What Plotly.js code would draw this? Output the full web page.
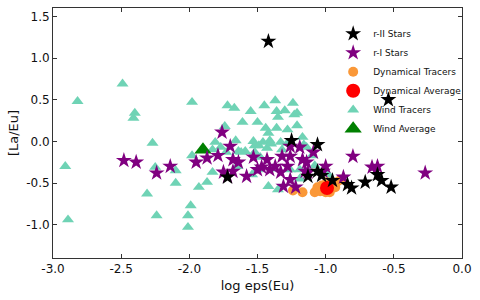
<!DOCTYPE html>
<html>
<head>
<meta charset="utf-8">
<script src="https://cdn.plot.ly/plotly-3.0.1.min.js"></script>
<style>html,body{margin:0;padding:0;background:#fff;}#chart{width:480px;height:300px;}</style>
</head>
<body>
<div id="chart"></div>
<script>
// r-II stars
const r2X = [-1.42, -0.54, -1.25, -1.06, -1.13, -1.06, -1.03, -0.95, -0.84, -0.81, -0.71, -0.62, -0.59, -0.52, -1.72];
const r2Y = [1.20, 0.50, 0.01, -0.04, -0.42, -0.36, -0.41, -0.47, -0.52, -0.56, -0.49, -0.40, -0.47, -0.55, -0.43];
// r-I stars
const r1X = [-2.48, -2.39, -2.24, -2.14, -1.95, -1.87, -1.79, -1.76, -1.70, -1.68, -1.64, -1.75, -1.72, -1.68, -1.58,
  -1.53, -1.50, -1.47, -1.43, -1.41, -1.37, -1.33, -1.32, -1.28, -1.26, -1.26, -1.19, -1.17, -1.14, -1.09,
  -1.15, -1.13, -1.26, -1.22, -1.31, -1.00, -1.02, -0.87, -0.80, -0.66, -0.62, -0.27];
const r1Y = [-0.23, -0.25, -0.38, -0.30, -0.25, -0.20, -0.17, 0.11, -0.06, -0.22, -0.25, -0.37, -0.42, -0.36, -0.42,
  -0.19, -0.34, -0.31, -0.22, -0.34, -0.30, -0.37, -0.18, -0.30, -0.06, -0.18, -0.07, -0.22, -0.25, -0.13,
  -0.36, -0.37, -0.46, -0.55, -0.54, -0.30, -0.36, -0.43, -0.18, -0.31, -0.30, -0.38];
// Dynamical tracers
const dynX = [-1.24, -1.17, -1.08, -1.04, -1.00, -0.97, -0.93, -0.92, -0.89, -1.03, -0.99, -0.95, -1.06];
const dynY = [-0.59, -0.61, -0.61, -0.60, -0.61, -0.61, -0.55, -0.49, -0.46, -0.53, -0.49, -0.52, -0.55];
const dynAvgX = [-0.99];
const dynAvgY = [-0.56];
// Wind tracers
const windX = [-2.82, -2.49, -2.40, -2.41, -2.91, -2.89, -2.27, -2.25, -2.10, -2.10, -2.31, -2.24, -1.98, -1.99, -2.01,
  -2.01, -1.93, -1.87, -1.83, -1.98, -1.72, -1.67, -1.55, -1.37, -1.45, -1.24, -1.36, -1.30, -1.23, -1.21,
  -1.61, -1.50, -1.35, -1.21, -1.74, -1.44, -1.36, -1.28, -1.42, -1.46, -1.41, -1.33, -1.43, -1.32, -1.17,
  -1.14, -1.66, -1.64, -1.77, -1.59, -1.53, -1.35, -1.42, -1.19, -1.50, -1.65, -1.08, -1.52, -1.49, -1.83,
  -1.73, -1.81, -1.40, -1.28, -1.39, -1.19, -1.10, -1.00, -0.97, -1.54, -1.48, -1.26, -1.16, -1.52, -1.62];
const windY = [0.48, 0.69, 0.34, 0.28, -0.30, -0.94, -0.02, -0.31, -0.35, -0.50, -0.63, -0.89, 0.47, -0.77, -0.89,
  -1.03, -0.55, -0.49, -0.37, -0.17, 0.43, 0.40, 0.36, 0.49, 0.43, 0.46, 0.36, 0.37, 0.32, 0.34,
  0.23, 0.23, 0.29, 0.19, 0.18, 0.16, 0.16, 0.14, 0.10, -0.01, 0.01, -0.01, -0.08, -0.10, 0.05,
  -0.07, 0.01, -0.12, -0.07, -0.12, 0.00, -0.58, -0.54, -0.34, -0.34, -0.30, -0.29, -0.05, -0.05, -0.10,
  -0.13, -0.01, -0.03, -0.02, -0.33, -0.45, -0.17, -0.37, -0.42, -0.40, -0.19, -0.34, -0.04, -0.13, -0.13];
const windAvgX = [-1.90];
const windAvgY = [-0.10];
// ticks
const xTickVals = [-3.0, -2.5, -2.0, -1.5, -1.0, -0.5, 0.0];
const xTickText = ["-3.0", "-2.5", "-2.0", "-1.5", "-1.0", "-0.5", "0.0"];
const yTickVals = [-1.0, -0.5, 0.0, 0.5, 1.0, 1.5];
const yTickText = ["-1.0", "-0.5", "0.0", "0.5", "1.0", "1.5"];

const traces = [
  {x: windX, y: windY, name: 'Wind Tracers', legendrank: 5, mode: 'markers', type: 'scatter',
   marker: {symbol: 'triangle-up', size: 10.5, color: '#6fd3b5', line: {width: 0}}},
  {x: windAvgX, y: windAvgY, name: 'Wind Average', legendrank: 6, mode: 'markers', type: 'scatter',
   marker: {symbol: 'triangle-up', size: 15, color: '#008000', line: {width: 0}}},
  {x: dynX, y: dynY, name: 'Dynamical Tracers', legendrank: 3, mode: 'markers', type: 'scatter',
   marker: {symbol: 'circle', size: 10, color: '#fa9838', line: {width: 0}}},
  {x: dynAvgX, y: dynAvgY, name: 'Dynamical Average', legendrank: 4, mode: 'markers', type: 'scatter',
   marker: {symbol: 'circle', size: 14, color: '#ff0000', line: {width: 0}}},
  {x: r1X, y: r1Y, name: 'r-I Stars', legendrank: 2, mode: 'markers', type: 'scatter',
   marker: {symbol: 'star', size: 12, color: '#800080', line: {width: 0}}},
  {x: r2X, y: r2Y, name: 'r-II Stars', legendrank: 1, mode: 'markers', type: 'scatter',
   marker: {symbol: 'star', size: 12, color: '#000000', line: {width: 0}}}
];

const axisCommon = {
  showgrid: false, zeroline: false, showline: true, linecolor: '#333', linewidth: 1,
  mirror: 'ticks', ticks: 'inside', ticklen: 4, tickcolor: '#333',
  tickfont: {family: 'DejaVu Sans', size: 12, color: '#111'}
};

const layout = {
  width: 480, height: 300,
  margin: {l: 53, r: 18, t: 8, b: 42},
  paper_bgcolor: '#fff', plot_bgcolor: '#fff',
  showlegend: true,
  legend: {x: 0.685, y: 0.955, xanchor: 'left', yanchor: 'top', bgcolor: 'rgba(0,0,0,0)',
    font: {family: 'DejaVu Sans', size: 9, color: '#111'}, itemsizing: 'trace'},
  xaxis: Object.assign({}, axisCommon, {range: [-3, 0], tickvals: xTickVals, ticktext: xTickText,
    title: {text: 'log eps(Eu)', font: {family: 'DejaVu Sans', size: 13, color: '#111'}, standoff: 5}}),
  yaxis: Object.assign({}, axisCommon, {range: [-1.4, 1.6], tickvals: yTickVals, ticktext: yTickText,
    title: {text: '[La/Eu]', font: {family: 'DejaVu Sans', size: 13, color: '#111'}, standoff: 4}})
};

Plotly.newPlot('chart', traces, layout, {displayModeBar: false, staticPlot: true});
</script>
</body>
</html>
